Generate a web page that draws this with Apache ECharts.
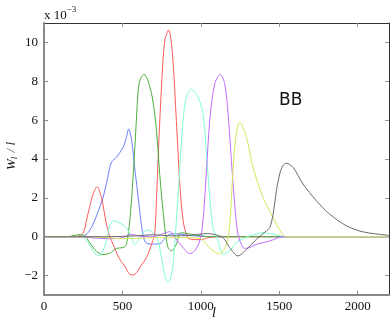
<!DOCTYPE html>
<html>
<head>
<meta charset="utf-8" />
<title>BB window functions</title>
<script src="https://cdn.jsdelivr.net/npm/echarts@6/dist/echarts.min.js"></script>
<style>
    html, body { margin: 0; padding: 0; background: #fff; }
    #main { width: 392px; height: 327px; }
</style>
</head>
<body>
<div id="main"></div>
<script type="text/javascript">
    // values in units of 1e-3
    var xTicks = [0, 500, 1000, 1500, 2000];
    var yTicks = [-2, 0, 2, 4, 6, 8, 10];

    var blueL = [0,200,250,280,313,345,376,405,430,462,504,525,540,560,578,595,610,625,642,663,700,738,770,802,850,900,950,1000,1100,2200];
    var blueW = [0,0,0.03,0.2,0.65,1.3,2.0,3.0,3.83,4.09,4.6,5.1,5.55,4.9,3.57,2.4,1.33,0.4,-0.22,-0.36,-0.38,-0.36,-0.1,0.13,0.15,0.1,0.05,0.02,0,0];

    var redL = [0,200,250,270,290,313,338,366,398,420,440,483,515,547,568,590,610,640,663,690,706,717,733,749,770,795,819,844,865,887,918,950,1000,1050,1100,2200];
    var redW = [0,0,0.2,0.82,1.5,2.2,2.57,2.02,0.65,0.0,-0.39,-1.16,-1.51,-1.94,-1.97,-1.85,-1.6,-1.25,-0.9,-0.3,0.13,1.9,5.0,7.7,10.1,10.64,9.43,5.98,2.88,0.82,-0.05,-0.15,-0.15,-0.05,0,0];

    var greenL = [0,150,220,260,291,334,376,419,462,504,525,547,568,589,600,610,621,638,660,690,717,738,770,791,812,844,865,887,920,960,1000,1050,2200];
    var greenW = [0,0,0.1,0.05,-0.3,-0.75,-0.92,-0.85,-0.6,-0.56,-0.39,0.82,3.05,6.0,7.5,8.0,8.22,8.36,8.1,7.2,5.5,3.2,0.47,-0.56,-0.73,-0.39,0.18,0.2,0.15,0.1,0.05,0,0];

    var cyanL = [0,200,250,281,313,345,366,398,419,445,470,493,525,557,578,600,631,663,695,727,749,770,791,805,823,844,865,887,908,940,982,1014,1036,1057,1078,1110,1142,1180,1227,1270,1312,1360,1397,1461,1546,1600,2200];
    var cyanW = [0,0,-0.05,-0.3,-0.73,-0.99,-0.9,-0.22,0.56,0.82,0.75,0.65,0.47,-0.05,-0.39,-0.22,0.21,0.34,0.21,-0.22,-1.08,-1.94,-2.35,-2.2,-1.42,0.82,3.4,5.99,7.19,7.59,7.19,6.33,4.26,2.02,0.47,-0.22,-0.9,-0.75,-0.3,-0.1,0.04,0.15,0.21,0.13,0,0,0];

    var purpleL = [0,200,300,355,400,450,500,557,600,650,695,760,802,840,887,929,961,993,1014,1036,1057,1089,1125,1152,1174,1195,1216,1237,1269,1290,1355,1440,1524,2200];
    var purpleW = [0,0,-0.05,-0.08,-0.1,-0.1,-0.05,0.12,0.05,0,0,0.16,0.26,-0.1,-0.56,-0.87,-0.73,-0.22,0.82,3.4,5.99,7.88,8.35,7.88,6.33,3.92,1.68,0.13,-0.56,-0.6,-0.39,-0.22,0,0];

    var yellowL = [0,200,300,400,500,600,700,800,900,1000,1025,1078,1121,1163,1184,1205,1223,1248,1291,1333,1397,1461,1514,1545,2200];
    var yellowW = [0,0,0,-0.05,-0.1,-0.08,-0.05,-0.05,-0.05,-0.1,-0.3,-0.73,-0.88,-0.39,0.6,3.4,5.12,5.9,5.12,3.57,2.02,0.99,0.21,0,0];

    var blackL = [0,200,400,600,700,800,900,993,1036,1078,1142,1184,1237,1291,1355,1418,1440,1461,1482,1503,1524,1546,1588,1652,1737,1822,1929,2034,2184,2200];
    var blackW = [0,0,0,0.05,0.1,0.05,0.05,0.13,0.16,0.13,-0.05,-0.56,-0.99,-0.65,-0.13,0.3,0.47,1.16,2.37,3.23,3.66,3.78,3.57,2.71,1.85,1.16,0.56,0.25,0.08,0.06];

    function pairs(xs, ys) {
        var out = [];
        for (var i = 0; i < xs.length; i++) out.push([xs[i], ys[i]]);
        return out;
    }

    function line(name, color, xs, ys) {
        return {
            name: name,
            type: 'line',
            xAxisIndex: 0,
            yAxisIndex: 0,
            data: pairs(xs, ys),
            smooth: 0.3,
            showSymbol: false,
            lineStyle: { color: color, width: 1 },
            silent: true
        };
    }

    var tickFont = { fontFamily: 'Liberation Serif', fontSize: 13, color: '#111' };

    var myChart = echarts.init(document.getElementById('main'), null, { renderer: 'canvas' });
    var option = {
        animation: false,
        backgroundColor: '#fff',
        grid: { left: 44, right: 3, top: 23, bottom: 32 },
        xAxis: [{
            type: 'value', min: 0, max: 2200, position: 'bottom',
            axisLine: { show: true, onZero: false, lineStyle: { color: '#888', width: 2 } },
            axisTick: { show: true, inside: true, length: 4, customValues: xTicks, lineStyle: { color: '#888' } },
            axisLabel: Object.assign({
                customValues: xTicks, margin: 5,
                formatter: function (v) { return String(v); }
            }, tickFont),
            splitLine: { show: false }
        }, {
            type: 'value', min: 0, max: 2200, position: 'top',
            axisLine: { show: true, onZero: false, lineStyle: { color: '#333', width: 1 } },
            axisTick: { show: true, inside: true, length: 4, customValues: xTicks, lineStyle: { color: '#999' } },
            axisLabel: { show: false },
            splitLine: { show: false }
        }],
        yAxis: [{
            type: 'value', min: -3, max: 11, position: 'left',
            axisLine: { show: true, onZero: false, lineStyle: { color: '#888', width: 2 } },
            axisTick: { show: true, inside: true, length: 4, customValues: yTicks, lineStyle: { color: '#888' } },
            axisLabel: Object.assign({
                customValues: yTicks, margin: 6,
                formatter: function (v) { return v < 0 ? '\u2212' + Math.abs(v) : String(v); }
            }, tickFont),
            splitLine: { show: false }
        }, {
            type: 'value', min: -3, max: 11, position: 'right',
            axisLine: { show: true, onZero: false, lineStyle: { color: '#333', width: 1 } },
            axisTick: { show: true, inside: true, length: 4, customValues: yTicks, lineStyle: { color: '#999' } },
            axisLabel: { show: false },
            splitLine: { show: false }
        }],
        series: [
            line('blue', '#6b7dff', blueL, blueW),
            line('red', '#ff5b5b', redL, redW),
            line('green', '#4cae3c', greenL, greenW),
            line('cyan', '#7dffcf', cyanL, cyanW),
            line('purple', '#c06cff', purpleL, purpleW),
            line('yellow', '#d6e55a', yellowL, yellowW),
            line('black', '#6a6a6a', blackL, blackW)
        ],
        graphic: [
            {
                type: 'text', left: 44, top: 5,
                style: {
                    text: '{a|x 10}{s|\u22123}',
                    rich: {
                        a: { fontFamily: 'Liberation Serif', fontSize: 13, fill: '#111', verticalAlign: 'bottom' },
                        s: { fontFamily: 'Liberation Serif', fontSize: 9, fill: '#111', verticalAlign: 'top', padding: [0, 0, 8, 0] }
                    }
                }
            },
            {
                type: 'text', x: 5, y: 170, rotation: Math.PI / 2,
                style: {
                    text: '{a|W}{s|l}{a| / l}',
                    rich: {
                        a: { fontFamily: 'Liberation Serif', fontSize: 13, fontStyle: 'italic', fill: '#111' },
                        s: { fontFamily: 'Liberation Serif', fontSize: 9, fontStyle: 'italic', fill: '#111', padding: [5, 1, 0, 0] }
                    }
                }
            },
            {
                type: 'text', x: 212, y: 306,
                style: { text: 'l', fontFamily: 'Liberation Serif', fontSize: 14, fontStyle: 'italic', fill: '#111' }
            },
            {
                type: 'text', x: 279, y: 92,
                style: { text: 'BB', fontFamily: 'DejaVu Sans', fontSize: 17, fill: '#111' }
            }
        ]
    };

    myChart.setOption(option);
</script>
</body>
</html>
